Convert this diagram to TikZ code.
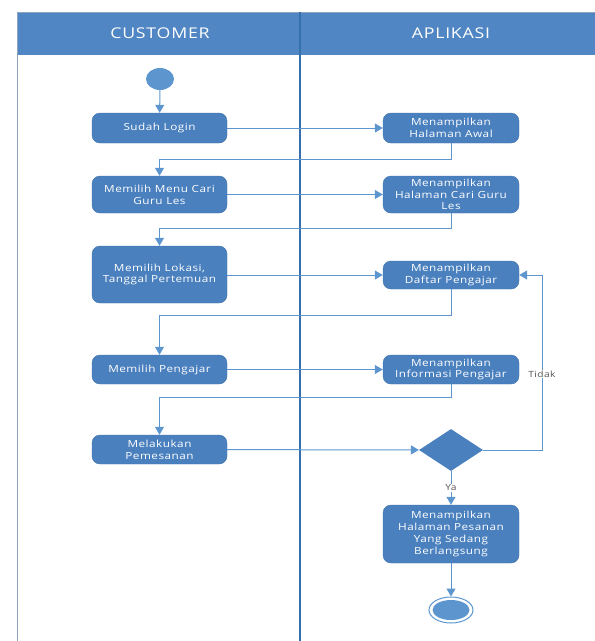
\documentclass[tikz,border=0pt]{standalone}
\usepackage{fontspec}
\setmainfont{Open Sans}[LetterSpace=5, FakeStretch=1.2]
\usetikzlibrary{arrows.meta,shapes.geometric}
\definecolor{hdr}{HTML}{4F86C3}
\definecolor{boxfill}{HTML}{4A80BE}
\definecolor{boxline}{HTML}{3F73AC}
\definecolor{flowc}{HTML}{5D96CF}
\definecolor{lane}{HTML}{3470AB}
\definecolor{lbl}{HTML}{555555}
\begin{document}
\begin{tikzpicture}[x=1pt,y=-1pt,
  act/.style={draw=boxline, fill=boxfill, rounded corners=8pt, text=white,
    align=center, inner sep=0pt, font=\fontsize{9.8}{11.8}\selectfont},
  custbox/.style={act, minimum width=135pt},
  appbox/.style={act, minimum width=136pt},
  flow/.style={draw=flowc, line width=1pt, -{Triangle[length=8pt,width=9pt]}},
  hdrtext/.style={text=white, font=\fontsize{14.8}{16}\selectfont},
  guard/.style={text=lbl, font=\fontsize{8.5}{10}\selectfont, inner sep=1pt}]

\useasboundingbox (0,0) rectangle (595,641);

% swimlane frame and headers
\fill[hdr] (17,12) rectangle (595,55);
\draw[flowc!70!black!60, line width=0.6pt] (17,641) -- (17,12) -- (595,12);
\draw[lane, line width=1.5pt] (300,12) -- (300,641);
\node[hdrtext] (hcust) at (160,33) {CUSTOMER};
\node[hdrtext] (happ) at (451,33) {APLIKASI};

% start node
\node[ellipse, fill=flowc, minimum width=28pt, minimum height=22pt, inner sep=0pt] (start) at (160,79) {};

% customer lane
\node[custbox, minimum height=30pt] (login) at (159.5,128) {Sudah Login};
\node[custbox, minimum height=37pt] (menu) at (159.5,194.5) {Memilih Menu Cari\\Guru Les};
\node[custbox, minimum height=57pt] (lokasi) at (159.5,274.5) {Memilih Lokasi,\\Tanggal Pertemuan};
\node[custbox, minimum height=29pt] (pilih) at (159.5,369.5) {Memilih Pengajar};
\node[custbox, minimum height=29pt] (pesan) at (159.5,449.5) {Melakukan\\Pemesanan};

% application lane
\node[appbox, minimum height=30pt] (awal) at (451,128) {Menampilkan\\Halaman Awal};
\node[appbox, minimum height=37pt] (cari) at (451,194.5) {Menampilkan\\Halaman Cari Guru\\Les};
\node[appbox, minimum height=28pt] (daftar) at (451,275) {Menampilkan\\Daftar Pengajar};
\node[appbox, minimum height=29pt] (info) at (451,369.5) {Menampilkan\\Informasi Pengajar};
\node[diamond, fill=boxfill, minimum width=64pt, minimum height=42pt, inner sep=0pt] (dec) at (451,450) {};
\node[appbox, minimum height=58pt] (hasil) at (451,534) {Menampilkan\\Halaman Pesanan\\Yang Sedang\\Berlangsung};

% end node
\node[ellipse, draw=flowc, line width=1pt, fill=white, minimum width=44pt, minimum height=26pt, inner sep=0pt] (finish) at (451,610) {};
\node[ellipse, fill=flowc, minimum width=37pt, minimum height=20pt, inner sep=0pt] (finishdot) at (451,610) {};

% flows
\draw[flow] (start) -- (login);
\draw[flow] (login) -- (awal);
\draw[flow] (awal.south) -- ++(0,16) -| (menu.north);
\draw[flow] (menu) -- (cari);
\draw[flow] (cari.south) -- ++(0,15) -| (lokasi.north);
\draw[flow] (lokasi.east |- daftar) -- (daftar);
\draw[flow] (daftar.south) -- ++(0,26) -| (pilih.north);
\draw[flow] (pilih) -- (info);
\draw[flow] (info.south) -- ++(0,13) -| (pesan.north);
\draw[flow] (pesan) -- (dec);
\draw[flow] (dec.east) -- ++(59,0) |- (daftar.east);
\node[guard, fill=white] (tidak) at (542,374) {Tidak};
\draw[flow] (dec.south) -- (hasil.north);
\node[guard, fill=white] (ya) at (451,488) {Ya};
\draw[flow] (hasil.south) -- (finish.north);
\end{tikzpicture}
\end{document}
